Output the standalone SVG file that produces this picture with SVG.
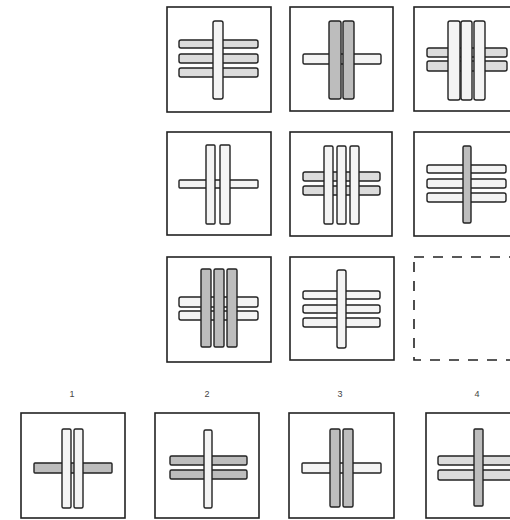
<svg xmlns="http://www.w3.org/2000/svg" width="510" height="520" viewBox="0 0 510 520">
<style>
.frame{fill:#fff;stroke:#222;stroke-width:1.6}
.dash{fill:none;stroke:#222;stroke-width:1.6;stroke-dasharray:10 9}
.w{fill:#f4f4f4;stroke:#222;stroke-width:1.4}
.l{fill:#dcdcdc;stroke:#222;stroke-width:1.4}
.g{fill:#bdbdbd;stroke:#222;stroke-width:1.4}
.lbl{font-family:"Liberation Sans",Arial,sans-serif;font-size:9px;fill:#444;text-anchor:middle}
</style>
<rect width="510" height="520" fill="#fff"/>
<g id="cell-r1c1">
<rect class="frame" x="167" y="7" width="104" height="105"/>
<rect class="l" x="179" y="40" width="79" height="8" rx="2"/>
<rect class="l" x="179" y="54" width="79" height="9" rx="2"/>
<rect class="l" x="179" y="68" width="79" height="9" rx="2"/>
<rect class="w" x="213" y="21" width="10" height="78" rx="2"/>
</g>
<g id="cell-r1c2">
<rect class="frame" x="290" y="7" width="103" height="104"/>
<rect class="w" x="303" y="54" width="78" height="10" rx="1.5"/>
<rect class="g" x="329" y="21" width="12" height="78" rx="2"/>
<rect class="g" x="343" y="21" width="11" height="78" rx="2"/>
</g>
<g id="cell-r1c3">
<rect class="frame" x="414" y="7" width="104" height="104"/>
<rect class="l" x="427" y="48" width="80" height="9" rx="2"/>
<rect class="l" x="427" y="61" width="80" height="10" rx="2"/>
<rect class="w" x="448" y="21" width="12" height="79" rx="2"/>
<rect class="w" x="461" y="21" width="11" height="79" rx="2"/>
<rect class="w" x="474" y="21" width="11" height="79" rx="2"/>
</g>
<g id="cell-r2c1">
<rect class="frame" x="167" y="132" width="104" height="103"/>
<rect class="w" x="179" y="180" width="79" height="8" rx="1"/>
<rect class="w" x="206" y="145" width="9" height="79" rx="1"/>
<rect class="w" x="220" y="145" width="10" height="79" rx="1"/>
</g>
<g id="cell-r2c2">
<rect class="frame" x="290" y="132" width="102" height="104"/>
<rect class="l" x="303" y="172" width="77" height="9" rx="2"/>
<rect class="l" x="303" y="186" width="77" height="9" rx="2"/>
<rect class="w" x="324" y="146" width="9" height="78" rx="1.5"/>
<rect class="w" x="337" y="146" width="9" height="78" rx="1.5"/>
<rect class="w" x="350" y="146" width="9" height="78" rx="1.5"/>
</g>
<g id="cell-r2c3">
<rect class="frame" x="414" y="132" width="104" height="104"/>
<rect class="w" x="427" y="165" width="79" height="8" rx="2"/>
<rect class="w" x="427" y="179" width="79" height="9" rx="2"/>
<rect class="w" x="427" y="193" width="79" height="9" rx="2"/>
<rect class="g" x="463" y="146" width="8" height="77" rx="1.5"/>
</g>
<g id="cell-r3c1">
<rect class="frame" x="167" y="257" width="104" height="105"/>
<rect class="w" x="179" y="297" width="79" height="10" rx="2"/>
<rect class="w" x="179" y="311" width="79" height="9" rx="2"/>
<rect class="g" x="201" y="269" width="10" height="78" rx="1.5"/>
<rect class="g" x="214" y="269" width="10" height="78" rx="1.5"/>
<rect class="g" x="227" y="269" width="10" height="78" rx="1.5"/>
</g>
<g id="cell-r3c2">
<rect class="frame" x="290" y="257" width="104" height="103"/>
<rect class="w" x="303" y="291" width="77" height="8" rx="2"/>
<rect class="w" x="303" y="305" width="77" height="8" rx="2"/>
<rect class="w" x="303" y="318" width="77" height="9" rx="2"/>
<rect class="w" x="337" y="270" width="9" height="78" rx="2"/>
</g>
<g id="cell-r3c3-blank">
<rect class="dash" x="414" y="257" width="104" height="103"/>
</g>
<g id="answer-1">
<text class="lbl" x="72" y="397">1</text>
<rect class="frame" x="21" y="413" width="104" height="105"/>
<rect class="g" x="34" y="463" width="78" height="10" rx="1"/>
<rect class="w" x="62" y="429" width="9" height="79" rx="1.5"/>
<rect class="w" x="74" y="429" width="9" height="79" rx="1.5"/>
</g>
<g id="answer-2">
<text class="lbl" x="207" y="397">2</text>
<rect class="frame" x="155" y="413" width="104" height="105"/>
<rect class="g" x="170" y="456" width="77" height="9" rx="1.5"/>
<rect class="g" x="170" y="470" width="77" height="9" rx="1.5"/>
<rect class="w" x="204" y="430" width="8" height="78" rx="1.5"/>
</g>
<g id="answer-3">
<text class="lbl" x="340" y="397">3</text>
<rect class="frame" x="289" y="413" width="105" height="105"/>
<rect class="w" x="302" y="463" width="79" height="10" rx="1"/>
<rect class="g" x="330" y="429" width="10" height="78" rx="1.5"/>
<rect class="g" x="343" y="429" width="10" height="78" rx="1.5"/>
</g>
<g id="answer-4">
<text class="lbl" x="477" y="397">4</text>
<rect class="frame" x="426" y="413" width="104" height="105"/>
<rect class="l" x="438" y="456" width="80" height="9" rx="2"/>
<rect class="l" x="438" y="470" width="80" height="10" rx="2"/>
<rect class="g" x="474" y="429" width="9" height="77" rx="1"/>
</g>
</svg>
